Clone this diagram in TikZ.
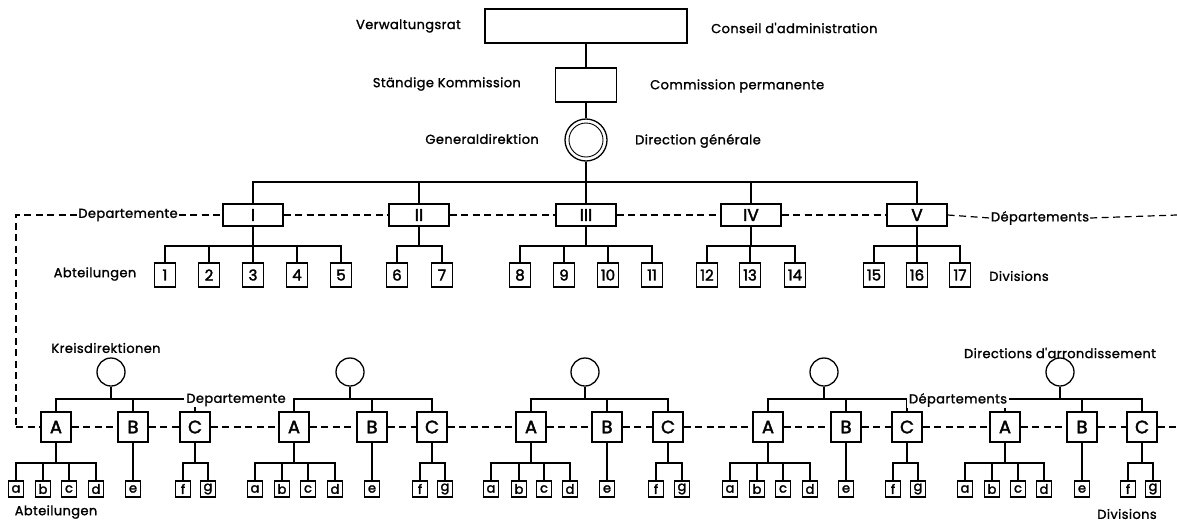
\documentclass[tikz,border=0pt]{standalone}
\usepackage{fontspec}
\setmainfont{Poppins}
\newfontfamily\lf{Poppins}[LetterSpace=3,FakeBold=1.4]
\newfontfamily\nf{Poppins}[FakeBold=2.2]
\begin{document}
\begin{tikzpicture}[x=1pt,y=-1pt,
  conn/.style={line width=1.3pt},
  dsh/.style={line width=1.2pt,dash pattern=on 7pt off 4.5pt},
  lbl/.style={font=\lf\fontsize{13}{13}\selectfont,inner sep=1pt},
  bigbox/.style={draw,line width=1.4pt,minimum width=202pt,minimum height=34pt,inner sep=0pt},
  midbox/.style={draw,line width=1.4pt,minimum width=61pt,minimum height=34pt,inner sep=0pt},
  deptbox/.style={draw,line width=1.4pt,fill=white,minimum width=60pt,minimum height=22pt,inner sep=0pt,font=\nf\fontsize{17}{17}\selectfont},
  divbox/.style={draw,line width=1.4pt,minimum width=21pt,minimum height=24pt,inner sep=0pt,font=\nf\fontsize{15}{15}\selectfont},
  kcirc/.style={draw,circle,line width=1.3pt,minimum size=28pt,inner sep=0pt},
  abox/.style={draw,line width=1.4pt,fill=white,minimum size=30pt,inner sep=0pt,font=\nf\fontsize{18}{18}\selectfont},
  sbox/.style={draw,line width=1.3pt,minimum width=15pt,minimum height=16pt,inner sep=0pt,font=\nf\fontsize{13}{13}\selectfont}
]
\useasboundingbox[fill=white] (0,0) rectangle (1177,525);

% ---------- top ----------
\node[bigbox] (vr) at (586,26) {};
\node[midbox] (sk) at (586,85) {};
\node[draw,circle,line width=1.3pt,minimum size=42pt,inner sep=0pt] (gd) at (586,140) {};
\node[draw,circle,line width=0.9pt,minimum size=34pt,inner sep=0pt] (gdi) at (586,140) {};
\draw[conn] (vr.south) -- (sk.north);
\draw[conn] (sk.south) -- (gd.north);

\node[lbl,anchor=east] (tvr) at (462,26) {Verwaltungsrat};
\node[lbl,anchor=east] (tsk) at (522,84) {Ständige Kommission};
\node[lbl,anchor=east] (tgd) at (540,139) {Generaldirektion};
\node[lbl,anchor=west] (fvr) at (710,28) {Conseil d'administration};
\node[lbl,anchor=west] (fsk) at (649,86) {Commission permanente};
\node[lbl,anchor=west] (fgd) at (634,141) {Direction générale};

% ---------- departments ----------
\coordinate (busA) at (0,182);
\coordinate (busB) at (0,246);
\foreach \n/\x/\t in {I/253/I,II/419/II,III/586/III,IV/751/IV,V/917/V}
  \node[deptbox] (d\n) at (\x,215) {\t};
\draw[conn] (gd.south) -- (gd.south |- busA);
\draw[conn] (dI.north) -- (dI.north |- busA) -- (dV.north |- busA) -- (dV.north);
\foreach \n in {II,III,IV}
  \draw[conn] (d\n.north) -- (d\n.north |- busA);

% divisions
\foreach \n/\x/\p in {1/165/I,2/209/I,3/253/I,4/297/I,5/341/I,6/397/II,7/442/II,
   8/520/III,9/564/III,10/608/III,11/652/III,12/707/IV,13/750/IV,14/795/IV,
   15/874/V,16/917/V,17/960/V}{
  \node[divbox] (n\n) at (\x,275) {\n};
  \draw[conn] (d\p.south) -- (d\p.south |- busB) -| (n\n.north);
}

\node[lbl] (depL) at (128,215) {Departemente};
\node[lbl] (abtT) at (95,274) {Abteilungen};
\node[lbl] (depR) at (1040,218) {Départements};
\node[lbl] (divT) at (1019,276) {Divisions};

\coordinate (tl) at (16,215);
\coordinate (bl) at (16,427);
\coordinate (tr) at (1177,215);
\coordinate (br) at (1177,427);
\draw[dsh] (depL.west) -- (tl) -- (bl);
\draw[dsh] (depL.east) -- (dI.west);
\draw[dsh] (dI.east) -- (dII.west);
\draw[dsh] (dII.east) -- (dIII.west);
\draw[dsh] (dIII.east) -- (dIV.west);
\draw[dsh] (dIV.east) -- (dV.west);
\draw[dsh] (dV.east) -- (depR.west);
\draw[dsh] (depR.east) -- (tr);

% ---------- district directions ----------
\coordinate (busC) at (0,399);
\coordinate (busD) at (0,463);
\foreach \G/\Cx/\Ax/\Bx/\Kx/\ax/\bx/\cx/\dx/\fx/\gx in {
  1/111/56/133/195/16/43/69/96/183/208,
  2/350/294/372/432/255/282/308/335/420/445,
  3/585/531/607/668/491/519/544/570/656/682,
  4/824/768/846/907/730/757/783/810/893/918,
  5/1060/1005/1082/1142/965/992/1018/1044/1128/1153}{
  \node[kcirc] (k\G) at (\Cx,372) {};
  \node[abox] (A\G) at (\Ax,427) {A};
  \node[abox] (B\G) at (\Bx,427) {B};
  \node[abox] (C\G) at (\Kx,427) {C};
  \draw[conn] (k\G.south) -- (k\G.south |- busC);
  \draw[conn] (A\G.north) -- (A\G.north |- busC) -- (C\G.north |- busC) -- (C\G.north);
  \draw[conn] (B\G.north) -- (B\G.north |- busC);
  \node[sbox] (a\G) at (\ax,489) {a};
  \node[sbox] (b\G) at (\bx,489) {b};
  \node[sbox] (c\G) at (\cx,489) {c};
  \node[sbox] (d\G) at (\dx,489) {d};
  \node[sbox] (e\G) at (\Bx,489) {e};
  \node[sbox] (f\G) at (\fx,489) {f};
  \node[sbox] (g\G) at (\gx,489) {g};
  \draw[conn] (A\G.south) -- (A\G.south |- busD);
  \draw[conn] (a\G.north) -- (a\G.north |- busD) -- (d\G.north |- busD) -- (d\G.north);
  \draw[conn] (b\G.north) -- (b\G.north |- busD);
  \draw[conn] (c\G.north) -- (c\G.north |- busD);
  \draw[conn] (B\G.south) -- (e\G.north);
  \draw[conn] (C\G.south) -- (C\G.south |- busD);
  \draw[conn] (f\G.north) -- (f\G.north |- busD) -- (g\G.north |- busD) -- (g\G.north);
}

\draw[dsh] (bl) -- (A1.west);
\foreach \u/\v in {A1/B1,B1/C1,C1/A2,A2/B2,B2/C2,C2/A3,A3/B3,B3/C3,C3/A4,A4/B4,B4/C4,C4/A5,A5/B5,B5/C5}
  \draw[dsh] (\u.east) -- (\v.west);
\draw[dsh] (C5.east) -- (br);

\node[lbl,fill=white,inner xsep=2pt] (kdepL) at (236,400) {Departemente};
\node[lbl,fill=white,inner xsep=2pt] (kdepR) at (958,400) {Départements};
\node[lbl] (kdT) at (106,348) {Kreisdirektionen};
\node[lbl] (daT) at (1060,353) {Directions d'arrondissement};
\node[lbl] (abtB) at (56,512) {Abteilungen};
\node[lbl] (divB) at (1127,514) {Divisions};
\end{tikzpicture}
\end{document}
